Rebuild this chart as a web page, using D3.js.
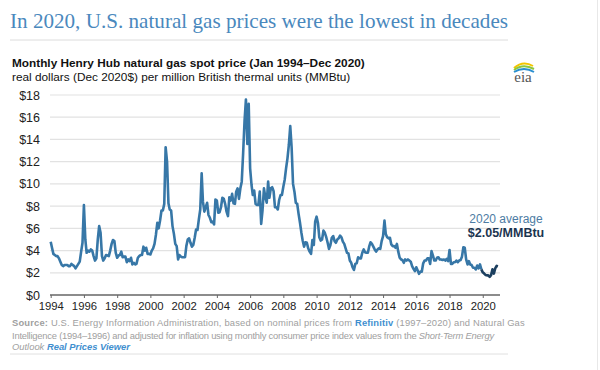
<!DOCTYPE html>
<html>
<head>
<meta charset="utf-8">
<script src="https://cdn.jsdelivr.net/npm/d3@7"></script>
<style>
  body { margin: 0; background: #fff; }
  svg { display: block; font-family: "Liberation Sans", Arial, sans-serif; }
</style>
</head>
<body>
<svg width="600" height="370"></svg>
<script>
// monthly real Henry Hub price, Dec 2020 $/MMBtu, one row per year
const years = d3.range(1994, 2021);
const prices = [
  [4.8, 4.2, 3.7, 3.6, 3.5, 3.5, 3.3, 3.0, 2.7, 2.6, 2.7, 2.7],
  [2.7, 2.6, 2.6, 2.8, 2.7, 2.6, 2.4, 2.6, 2.8, 3.0, 3.9, 4.7],
  [8.1, 5.0, 3.8, 4.0, 3.9, 4.1, 4.0, 3.5, 3.1, 3.3, 5.0, 6.2],
  [5.6, 3.5, 3.1, 3.3, 3.6, 3.55, 3.5, 4.0, 4.6, 4.95, 4.85, 3.8],
  [3.35, 3.55, 3.6, 3.9, 3.4, 3.45, 3.45, 2.95, 3.2, 3.05, 3.35, 2.75],
  [2.9, 2.75, 2.8, 3.35, 3.5, 3.6, 3.6, 4.35, 4.0, 4.25, 3.7, 3.7],
  [3.65, 4.0, 4.2, 4.6, 5.4, 6.5, 6.0, 6.7, 7.6, 7.6, 8.2, 13.3],
  [12.0, 8.25, 7.7, 7.6, 6.2, 5.5, 4.6, 4.4, 3.2, 3.6, 3.45, 3.4],
  [3.4, 3.4, 4.4, 5.0, 5.1, 4.7, 4.35, 4.5, 5.15, 5.9, 5.85, 6.8],
  [7.7, 10.95, 8.4, 7.5, 7.9, 8.3, 7.2, 6.95, 6.55, 6.6, 6.35, 8.6],
  [8.5, 7.4, 7.45, 7.9, 8.75, 8.65, 8.2, 7.5, 7.1, 8.8, 8.5, 9.1],
  [8.25, 8.2, 9.3, 9.6, 8.65, 9.6, 10.2, 12.8, 15.7, 17.6, 13.6, 17.2],
  [11.4, 9.9, 9.0, 9.4, 8.2, 8.1, 8.1, 9.3, 6.4, 7.65, 9.6, 8.8],
  [8.3, 10.2, 8.75, 9.6, 9.7, 9.35, 7.9, 7.9, 7.7, 8.55, 9.0, 9.0],
  [9.75, 10.4, 11.4, 12.3, 13.5, 15.2, 13.3, 10.0, 9.3, 8.3, 8.2, 7.3],
  [6.5, 5.6, 4.9, 4.35, 4.75, 4.7, 4.2, 3.9, 3.7, 4.95, 4.5, 6.6],
  [7.05, 6.45, 5.2, 4.9, 5.0, 5.8, 5.6, 5.2, 4.7, 4.15, 4.5, 5.15],
  [5.3, 4.85, 4.7, 5.0, 5.1, 5.35, 5.2, 4.8, 4.6, 4.2, 3.8, 3.75],
  [3.1, 2.9, 2.5, 2.25, 2.8, 2.85, 3.4, 3.3, 3.3, 3.8, 4.1, 3.85],
  [3.8, 3.8, 4.35, 4.75, 4.6, 4.35, 4.1, 3.9, 4.1, 4.2, 4.15, 4.85],
  [5.3, 6.7, 5.5, 5.2, 5.1, 5.15, 4.55, 4.4, 4.4, 4.25, 4.6, 3.9],
  [3.35, 3.2, 3.15, 2.9, 3.2, 3.1, 3.2, 3.1, 3.0, 2.6, 2.35, 2.15],
  [2.5, 2.2, 1.9, 2.1, 2.1, 2.85, 3.1, 3.1, 3.3, 3.3, 2.8, 3.95],
  [3.55, 3.1, 3.1, 3.35, 3.4, 3.2, 3.2, 3.15, 3.2, 3.1, 3.25, 3.05],
  [4.05, 2.8, 2.8, 2.95, 2.95, 3.1, 2.95, 3.1, 3.15, 3.45, 4.3, 4.25],
  [3.2, 2.75, 3.05, 2.75, 2.7, 2.45, 2.45, 2.3, 2.65, 2.4, 2.75, 2.3],
  [2.04, 1.93, 1.81, 1.77, 1.77, 1.64, 1.78, 2.31, 1.93, 2.40, 2.62, 2.59]
];
const yTicks = [0, 2, 4, 6, 8, 10, 12, 14, 16, 18];
const xTickYears = d3.range(1994, 2021, 2);

const data = [];
years.forEach((yr, i) => prices[i].forEach((v, m) => data.push({ date: new Date(yr, m, 1), v })));

const svg = d3.select("svg");

// title block
svg.append("text")
  .attr("x", 10).attr("y", 28)
  .attr("font-family", "'Liberation Serif', 'Times New Roman', serif")
  .attr("font-size", 22)
  .attr("fill", "#4a88bd")
  .attr("textLength", 498).attr("lengthAdjust", "spacingAndGlyphs")
  .text("In 2020, U.S. natural gas prices were the lowest in decades");

svg.append("line")
  .attr("x1", 10).attr("x2", 508).attr("y1", 40).attr("y2", 40)
  .attr("stroke", "#dcdcdc");

svg.append("text")
  .attr("x", 12).attr("y", 67)
  .attr("font-size", 11.8).attr("font-weight", "bold").attr("fill", "#111")
  .text("Monthly Henry Hub natural gas spot price (Jan 1994\u2013Dec 2020)");
svg.append("text")
  .attr("x", 12).attr("y", 81)
  .attr("font-size", 11.8).attr("fill", "#111")
  .text("real dollars (Dec 2020$) per million British thermal units (MMBtu)");

// eia logo
const logo = svg.append("g").attr("transform", "translate(523,72)");
logo.append("path").attr("d", "M-9,-4 Q0,-12 10,-6").attr("fill", "none").attr("stroke", "#f2c500").attr("stroke-width", 2);
logo.append("path").attr("d", "M-9,-2 Q0,-9 11,-3").attr("fill", "none").attr("stroke", "#8cc63f").attr("stroke-width", 2);
logo.append("path").attr("d", "M-9,0 Q1,-6 11,0").attr("fill", "none").attr("stroke", "#2a8fd0").attr("stroke-width", 2);
logo.append("text")
  .attr("x", 0).attr("y", 10).attr("text-anchor", "middle")
  .attr("font-family", "'Liberation Serif', serif").attr("font-size", 15)
  .attr("fill", "#555").text("eia");

// chart
const x = d3.scaleTime()
  .domain([new Date(1994, 0, 1), new Date(2020, 11, 1)])
  .range([50.7, 498]);
const y = d3.scaleLinear().domain([0, 18]).range([295, 95]);

svg.append("g")
  .selectAll("line")
  .data(yTicks.filter(d => d > 0))
  .join("line")
  .attr("x1", 50).attr("x2", 500)
  .attr("y1", d => y(d)).attr("y2", d => y(d))
  .attr("stroke", "#e2e2e2").attr("stroke-width", 1.2);

svg.append("g")
  .selectAll("text")
  .data(yTicks)
  .join("text")
  .attr("x", 40).attr("y", d => y(d) + 4.5)
  .attr("text-anchor", "end")
  .attr("font-size", 12.5).attr("fill", "#222")
  .text(d => "$" + d);

const xAxis = svg.append("g")
  .attr("transform", "translate(0,295)")
  .call(d3.axisBottom(x)
    .tickValues(xTickYears.map(yr => new Date(yr, 0, 1)))
    .tickFormat(d3.timeFormat("%Y"))
    .tickSize(3)
    .tickPadding(4));
xAxis.select(".domain").attr("d", "M50,0H500").attr("stroke", "#666").attr("stroke-width", 1.3);
xAxis.selectAll(".tick line").attr("stroke", "#666");
xAxis.selectAll(".tick text")
  .attr("font-family", "'Liberation Sans', Arial, sans-serif")
  .attr("font-size", 11.3).attr("fill", "#222");

const line = d3.line().x(d => x(d.date)).y(d => y(d.v));

svg.append("path")
  .datum(data.filter(d => d.date.getFullYear() < 2020))
  .attr("d", line)
  .attr("fill", "none")
  .attr("stroke", "#3777a7")
  .attr("stroke-width", 2.6)
  .attr("stroke-linejoin", "round");

svg.append("path")
  .datum(data.filter(d => d.date >= new Date(2019, 11, 1)))
  .attr("d", line)
  .attr("fill", "none")
  .attr("stroke", "#1c3f5f")
  .attr("stroke-width", 2.6)
  .attr("stroke-linejoin", "round");

// annotation
svg.append("text")
  .attr("x", 506).attr("y", 222.5).attr("text-anchor", "middle")
  .attr("font-size", 12).attr("fill", "#4d7ca3")
  .text("2020 average");
svg.append("text")
  .attr("x", 506).attr("y", 237).attr("text-anchor", "middle")
  .attr("font-size", 12.5).attr("font-weight", "bold").attr("fill", "#1c3550")
  .text("$2.05/MMBtu");

// source
const src = svg.append("g").attr("font-size", 9.4).attr("fill", "#a0a0a0");
const l1 = src.append("text").attr("x", 12).attr("y", 326).attr("letter-spacing", 0.17);
l1.append("tspan").attr("font-weight", "bold").text("Source:");
l1.append("tspan").text(" U.S. Energy Information Administration, based on nominal prices from ");
l1.append("tspan").attr("fill", "#3f8fcf").attr("font-weight", "bold").text("Refinitiv");
l1.append("tspan").text(" (1997\u20132020) and Natural Gas");
const l2 = src.append("text").attr("x", 12).attr("y", 338.5).attr("letter-spacing", -0.22);
l2.append("tspan").text("Intelligence (1994\u20131996) and adjusted for inflation using monthly consumer price index values from the ");
l2.append("tspan").attr("font-style", "italic").text("Short-Term Energy");
const l3 = src.append("text").attr("x", 12).attr("y", 350);
l3.append("tspan").attr("font-style", "italic").text("Outlook ");
l3.append("tspan").attr("font-style", "italic").attr("font-weight", "bold").attr("fill", "#3f8fcf").text("Real Prices Viewer");

svg.append("line")
  .attr("x1", 10).attr("x2", 508).attr("y1", 354).attr("y2", 354)
  .attr("stroke", "#e0e0e0");

svg.append("line")
  .attr("x1", 597.5).attr("x2", 597.5).attr("y1", 0).attr("y2", 370)
  .attr("stroke", "#e8e8e8");
</script>
</body>
</html>
